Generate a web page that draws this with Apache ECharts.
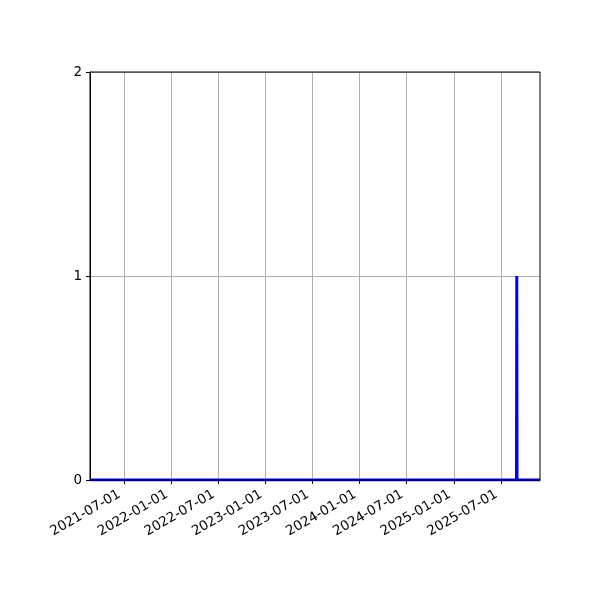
<!DOCTYPE html>
<html>
<head>
<meta charset="utf-8">
<script src="https://cdn.jsdelivr.net/npm/echarts@6/dist/echarts.min.js"></script>
<style>
  html, body { margin: 0; padding: 0; background: #fff; }
  #main { width: 600px; height: 600px; }
</style>
</head>
<body>
<div id="main"></div>
<script>
// data
var dates = ['2021-02-20', '2025-08-31', '2025-09-01', '2025-09-02', '2025-11-30'];
var counts = [0, 0, 1, 0, 0];
var xTicks = ['2021-07-01', '2022-01-01', '2022-07-01', '2023-01-01', '2023-07-01',
              '2024-01-01', '2024-07-01', '2025-01-01', '2025-07-01'];
var yTicks = [0, 1, 2];

var toMs = function (s) { return new Date(s + 'T00:00:00Z').getTime(); };
var pad = function (n) { return (n < 10 ? '0' : '') + n; };
var fmt = function (v) {
    var d = new Date(v);
    return d.getUTCFullYear() + '-' + pad(d.getUTCMonth() + 1) + '-' + pad(d.getUTCDate());
};

var tickMs = xTicks.map(toMs);
var seriesData = dates.map(function (d, i) { return [toMs(d), counts[i]]; });

var chart = echarts.init(document.getElementById('main'), null, {renderer: 'canvas'});

//日期轴用毫秒数的数值轴，刻度用 customValues
chart.setOption({
    animation: false,
    textStyle: { fontFamily: 'DejaVu Sans' },
    grid: {
        left: 90, right: 60, top: 72, bottom: 120,
        show: true, borderColor: '#000', borderWidth: 1, backgroundColor: 'transparent', z: 5
    },
    xAxis: {
        type: 'value',
        min: toMs(dates[0]),
        max: toMs(dates[dates.length - 1]),
        axisLine: { show: true, onZero: false, lineStyle: { color: '#000', width: 1 } },
        axisTick: { show: true, length: 4, customValues: tickMs, lineStyle: { color: '#000' } },
        axisLabel: {
            customValues: tickMs,
            rotate: 30,
            margin: 11,
            padding: [0, 5, 0, 0],
            color: '#000',
            fontSize: 13.5,
            fontFamily: 'DejaVu Sans',
            formatter: function (v) { return fmt(v); }
        },
        splitLine: { show: true, lineStyle: { color: '#b0b0b0', width: 1 } }
    },
    yAxis: {
        type: 'value',
        min: yTicks[0],
        max: yTicks[yTicks.length - 1],
        interval: 1,
        axisLine: { show: true, lineStyle: { color: '#000', width: 1 } },
        axisTick: { show: true, length: 4, lineStyle: { color: '#000' } },
        axisLabel: { color: '#000', fontSize: 13.5, margin: 8, fontFamily: 'DejaVu Sans' },
        splitLine: { show: true, lineStyle: { color: '#b0b0b0', width: 1 } }
    },
    series: [{
        type: 'line',
        data: seriesData,
        showSymbol: false,
        lineStyle: { color: '#0000ff', width: 3 },
        itemStyle: { color: '#0000ff' },
        z: 3
    }]
});
</script>
</body>
</html>
